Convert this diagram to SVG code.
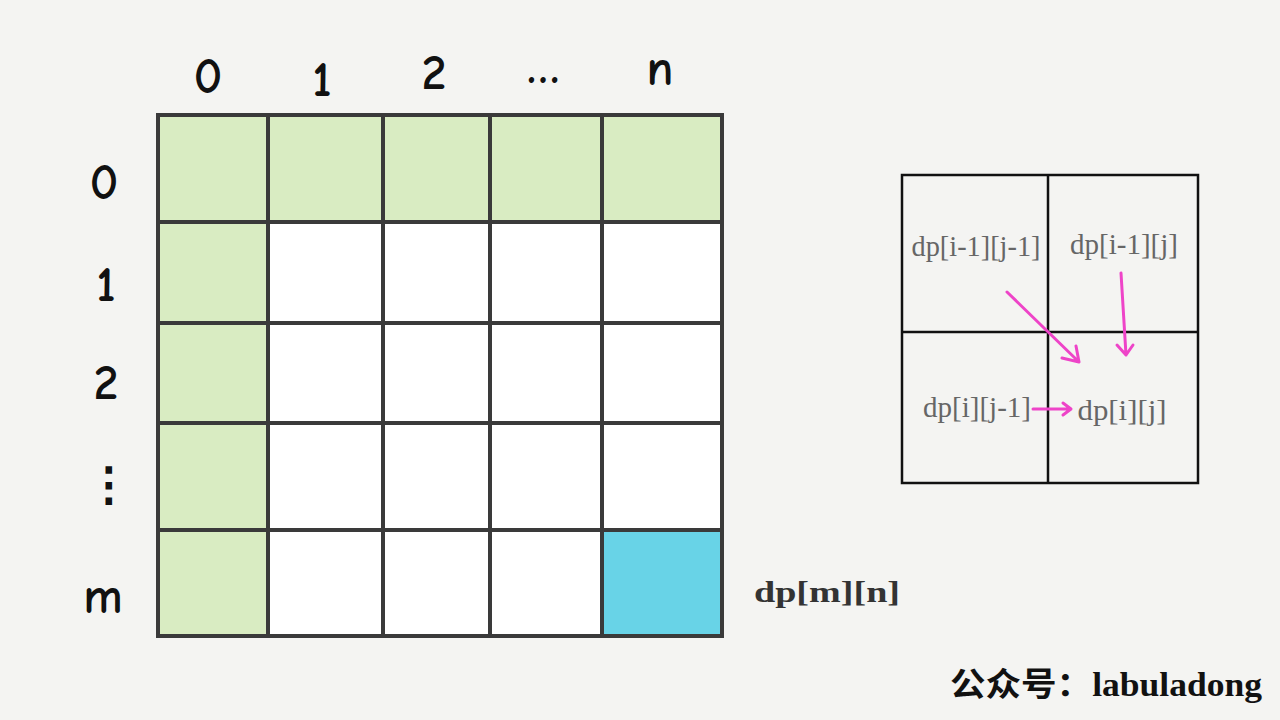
<svg xmlns="http://www.w3.org/2000/svg" width="1280" height="720" viewBox="0 0 1280 720">
<style>
.hand{font-family:"Comic Neue","DejaVu Sans","Liberation Sans",sans-serif;font-size:46px;fill:#111;stroke:#111;stroke-width:1.8;text-anchor:middle}
.g{stroke:#3a3a3a;stroke-width:4;fill:none;stroke-linecap:square}
.s{stroke:#111;stroke-width:2.5;fill:none}
.lbl{font-family:"Liberation Serif","DejaVu Serif",serif;font-size:29px;fill:#666;text-anchor:middle}
.arr{stroke:#ee44c8;stroke-width:3;fill:none;stroke-linecap:round;stroke-linejoin:round}
</style>
<rect width="1280" height="720" fill="#f4f4f2"/>
<g id="big-grid">
<rect x="158" y="115" width="564" height="107" fill="#d9ecc2"/>
<rect x="158" y="115" width="110" height="521" fill="#d9ecc2"/>
<rect x="268" y="222" width="454" height="414" fill="#ffffff"/>
<rect x="602" y="530" width="120" height="106" fill="#68d3e7"/>
<rect x="158" y="115" width="564" height="521" class="g"/>
<path class="g" d="M268 115V636M383 115V636M490 115V636M602 115V636M158 222H722M158 323H722M158 423H722M158 530H722"/>
</g>
<g id="col-labels">
<text class="hand" x="208" y="92">0</text>
<text class="hand" x="322" y="95">1</text>
<text class="hand" x="434" y="88">2</text>
<text class="hand" x="543" y="82" font-size="52" stroke-width="3">…</text>
<text class="hand" x="660" y="84" font-size="50">n</text>
</g>
<g id="row-labels">
<text class="hand" x="104" y="198">0</text>
<text class="hand" x="106" y="300">1</text>
<text class="hand" x="106" y="398">2</text>
<text class="hand" x="109" y="500" font-size="54" stroke-width="2.5">⋮</text>
<text class="hand" x="103" y="612" font-size="58">m</text>
</g>
<g id="dp-mn">
<text x="754" y="602" font-family="'Liberation Serif','DejaVu Serif',serif" font-size="30" font-weight="bold" fill="#333" textLength="146" lengthAdjust="spacingAndGlyphs">dp[m][n]</text>
</g>
<g id="small-grid">
<rect x="902" y="175" width="296" height="308" fill="none" class="s"/>
<path class="s" d="M1048 175V483M902 332H1198"/>
<text class="lbl" x="976" y="256" textLength="129" lengthAdjust="spacingAndGlyphs">dp[i-1][j-1]</text>
<text class="lbl" x="1124" y="254" textLength="108" lengthAdjust="spacingAndGlyphs">dp[i-1][j]</text>
<text class="lbl" x="977" y="417" textLength="108" lengthAdjust="spacingAndGlyphs">dp[i][j-1]</text>
<text class="lbl" x="1122" y="420" textLength="89" lengthAdjust="spacingAndGlyphs">dp[i][j]</text>
</g>
<g id="connectors">
<path class="arr" d="M1007 292L1079 362M1062 358L1079 362L1076 346"/>
<path class="arr" d="M1121 273L1126 355M1117 345L1126 355L1133 345"/>
<path class="arr" d="M1033 409L1070 409M1063 403L1071 409L1063 415"/>
</g>
<g id="watermark">
<text x="950" y="696" font-family="'Liberation Serif','Noto Sans CJK SC',serif" font-size="33" font-weight="bold" fill="#111" textLength="312" lengthAdjust="spacingAndGlyphs">公众号：labuladong</text>
</g>
</svg>
